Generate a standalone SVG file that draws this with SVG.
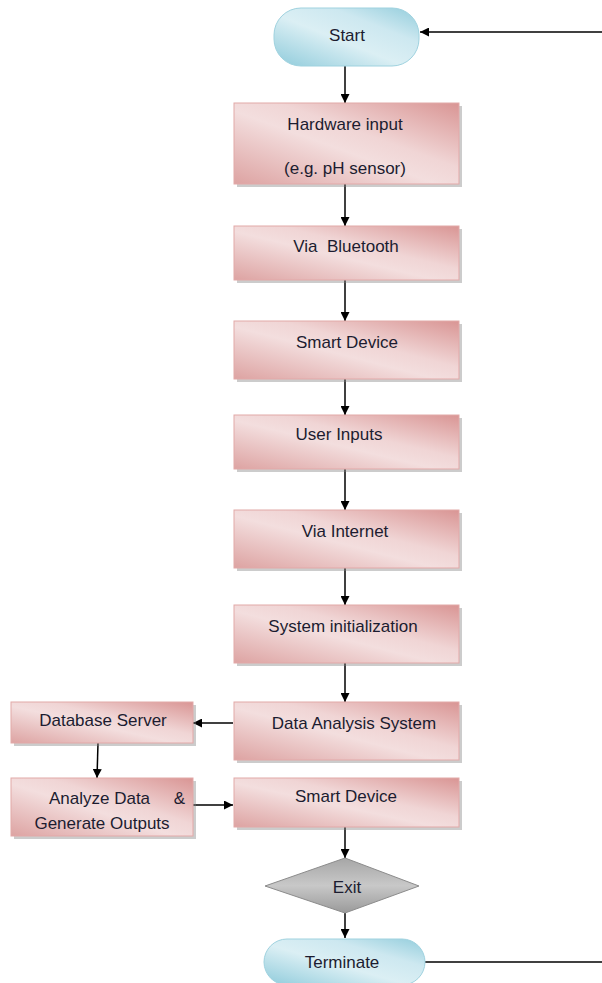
<svg xmlns="http://www.w3.org/2000/svg" width="602" height="983" viewBox="0 0 602 983">
<defs>
<linearGradient id="pink" x1="0" y1="1" x2="1" y2="0">
<stop offset="0" stop-color="#dda3a2"/>
<stop offset="0.45" stop-color="#f3dede"/>
<stop offset="0.6" stop-color="#f0d5d5"/>
<stop offset="1" stop-color="#d99594"/>
</linearGradient>
<linearGradient id="blue" x1="0" y1="1" x2="1" y2="0">
<stop offset="0" stop-color="#8fcbdb"/>
<stop offset="0.45" stop-color="#dbeff4"/>
<stop offset="0.7" stop-color="#cde8f0"/>
<stop offset="1" stop-color="#93cddc"/>
</linearGradient>
<linearGradient id="gray" x1="0" y1="0" x2="0" y2="1">
<stop offset="0" stop-color="#a6a6a6"/>
<stop offset="0.5" stop-color="#c8c8c8"/>
<stop offset="1" stop-color="#9a9a9a"/>
</linearGradient>
<marker id="arr" viewBox="0 0 10 10" refX="10" refY="5" markerWidth="9" markerHeight="9" markerUnits="userSpaceOnUse" orient="auto">
<path d="M0,0 L10,5 L0,10 z" fill="#000"/>
</marker>
</defs>
<style>
.box{fill:url(#pink);stroke:#e2a9a8;stroke-width:1}
.sh{fill:#7f7f7f;opacity:0.4}
.pill{fill:url(#blue);stroke:#9fd2df;stroke-width:1}
.dia{fill:url(#gray);stroke:#8c8c8c;stroke-width:1}
text{font-family:"Liberation Sans",Arial,sans-serif;font-size:17px;fill:#1c1c30;text-anchor:middle}
.c{stroke:#000;stroke-width:1.5;fill:none}
.ca{stroke:#000;stroke-width:1.5;fill:none;marker-end:url(#arr)}
</style>
<g id="connectors">
<line class="ca" x1="602" y1="32" x2="420" y2="32"/>
<line class="ca" x1="345" y1="66" x2="345" y2="103"/>
<line class="ca" x1="345" y1="184" x2="345" y2="226"/>
<line class="ca" x1="345" y1="280" x2="345" y2="321"/>
<line class="ca" x1="345" y1="379" x2="345" y2="415"/>
<line class="ca" x1="345" y1="469" x2="345" y2="510"/>
<line class="ca" x1="345" y1="568" x2="345" y2="605"/>
<line class="ca" x1="345" y1="663" x2="345" y2="702"/>
<line class="ca" x1="233" y1="723" x2="193" y2="723"/>
<line class="ca" x1="98" y1="743" x2="97" y2="778"/>
<line class="ca" x1="193" y1="805" x2="233" y2="805"/>
<line class="ca" x1="345" y1="827" x2="345" y2="858"/>
<line class="ca" x1="345" y1="913" x2="345" y2="938"/>
<line class="c" x1="425" y1="962" x2="602" y2="962"/>
</g>
<g id="start">
<rect class="pill" x="274" y="8" width="145" height="58" rx="27"/>
<text x="347" y="41">Start</text>
</g>
<g id="hardware">
<rect class="sh" x="237" y="106" width="225" height="81"/>
<rect class="box" x="234" y="103" width="225" height="81"/>
<text x="345" y="130">Hardware input</text>
<text x="345" y="174">(e.g. pH sensor)</text>
</g>
<g id="bluetooth">
<rect class="sh" x="237" y="229" width="225" height="54"/>
<rect class="box" x="234" y="226" width="225" height="54"/>
<text x="346" y="252" xml:space="preserve">Via  Bluetooth</text>
</g>
<g id="smart1">
<rect class="sh" x="237" y="324" width="225" height="58"/>
<rect class="box" x="234" y="321" width="225" height="58"/>
<text x="347" y="348">Smart Device</text>
</g>
<g id="userinputs">
<rect class="sh" x="237" y="418" width="225" height="54"/>
<rect class="box" x="234" y="415" width="225" height="54"/>
<text x="339" y="440">User Inputs</text>
</g>
<g id="internet">
<rect class="sh" x="237" y="513" width="225" height="58"/>
<rect class="box" x="234" y="510" width="225" height="58"/>
<text x="345" y="537">Via Internet</text>
</g>
<g id="sysinit">
<rect class="sh" x="237" y="608" width="225" height="58"/>
<rect class="box" x="234" y="605" width="225" height="58"/>
<text x="343" y="632">System initialization</text>
</g>
<g id="dataanalysis">
<rect class="sh" x="237" y="705" width="225" height="58"/>
<rect class="box" x="234" y="702" width="225" height="58"/>
<text x="354" y="729">Data Analysis System</text>
</g>
<g id="dbserver">
<rect class="sh" x="14" y="705" width="182" height="41"/>
<rect class="box" x="11" y="702" width="182" height="41"/>
<text x="103" y="726">Database Server</text>
</g>
<g id="analyze">
<rect class="sh" x="14" y="781" width="182" height="58"/>
<rect class="box" x="11" y="778" width="182" height="58"/>
<text x="117" y="804" xml:space="preserve">Analyze Data     &amp;</text>
<text x="102" y="829">Generate Outputs</text>
</g>
<g id="smart2">
<rect class="sh" x="237" y="781" width="225" height="49"/>
<rect class="box" x="234" y="778" width="225" height="49"/>
<text x="346" y="802">Smart Device</text>
</g>
<g id="exit">
<polygon class="dia" points="345,858 419,886 345,913 265,886"/>
<text x="347" y="893">Exit</text>
</g>
<g id="terminate">
<rect class="pill" x="264" y="939" width="161" height="46" rx="23"/>
<text x="342" y="968">Terminate</text>
</g>
</svg>
